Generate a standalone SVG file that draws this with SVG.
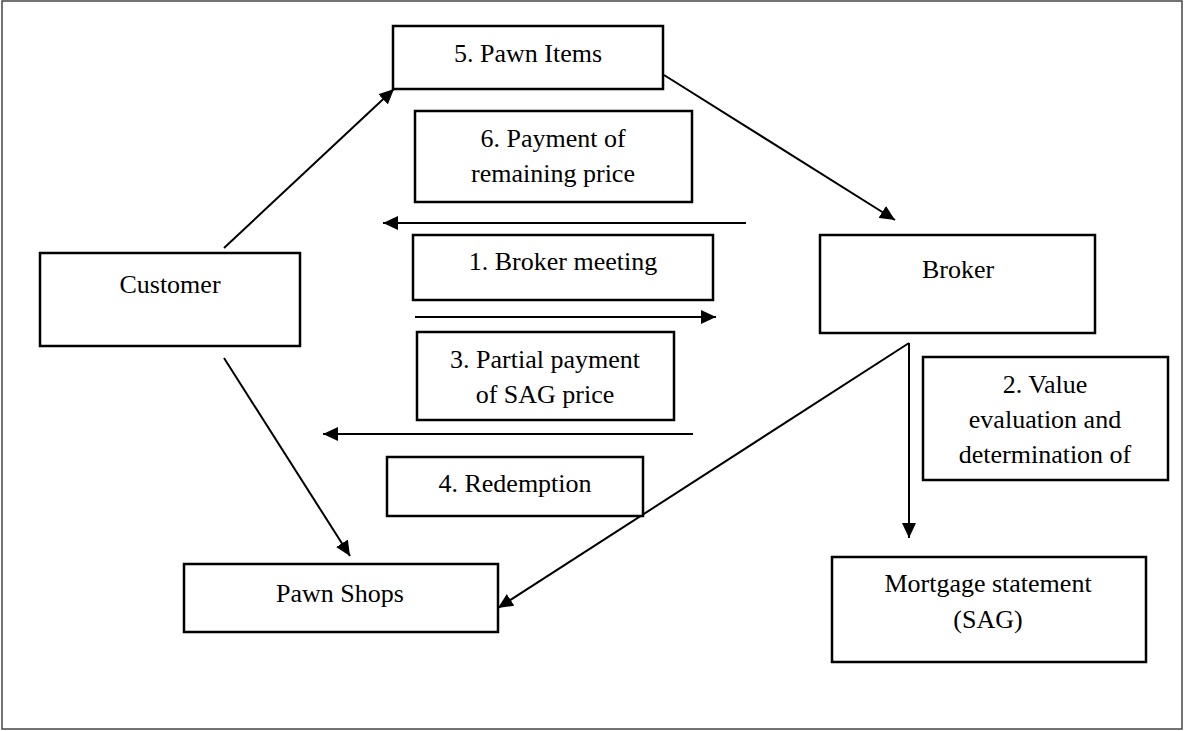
<svg xmlns="http://www.w3.org/2000/svg" width="1184" height="731" viewBox="0 0 1184 731">
<style>
.box{fill:#fff;stroke:#000;stroke-width:2.5}
.t{font-family:"Liberation Serif","Times New Roman",serif;font-size:26px;fill:#000;text-anchor:middle}
.c{stroke:#000;stroke-width:2;fill:none;marker-end:url(#ah)}
.l{stroke:#000;stroke-width:2;fill:none}
</style>
<defs>
<marker id="ah" markerUnits="userSpaceOnUse" markerWidth="16" markerHeight="14" refX="15" refY="7" orient="auto">
<path d="M0,0 L15,7 L0,14 Z" fill="#000"/>
</marker>
</defs>
<rect x="0" y="0" width="1184" height="731" fill="#fff"/>
<rect x="2" y="1" width="1180" height="728" fill="none" stroke="#444" stroke-width="1.5"/>
<g id="connectors">
<line class="c" x1="224" y1="248" x2="394" y2="89"/>
<line class="c" x1="664" y1="75" x2="895" y2="220"/>
<line class="c" x1="746" y1="223" x2="383" y2="223"/>
<line class="c" x1="415" y1="317" x2="716" y2="317"/>
<line class="c" x1="693" y1="434" x2="323" y2="434"/>
<line class="c" x1="224" y1="358" x2="350" y2="556"/>
<line class="c" x1="909" y1="343" x2="909" y2="538"/>
<line class="c" x1="909" y1="343" x2="498" y2="608"/>
</g>
<g id="pawn-items"><rect class="box" x="393" y="26" width="270" height="63"/><text class="t" x="528" y="62">5. Pawn Items</text></g>
<g id="payment-remaining"><rect class="box" x="415" y="111" width="277" height="91"/><text class="t" x="553" y="147">6. Payment of</text><text class="t" x="553" y="182">remaining price</text></g>
<g id="broker-meeting"><rect class="box" x="413" y="235" width="300" height="65"/><text class="t" x="563" y="270">1. Broker meeting</text></g>
<g id="partial-payment"><rect class="box" x="417" y="332" width="257" height="88"/><text class="t" x="545" y="368">3. Partial payment</text><text class="t" x="545" y="403">of SAG price</text></g>
<g id="redemption"><rect class="box" x="387" y="457" width="256" height="59"/><text class="t" x="515" y="492">4. Redemption</text></g>
<g id="customer"><rect class="box" x="40" y="253" width="260" height="93"/><text class="t" x="170" y="293">Customer</text></g>
<g id="pawn-shops"><rect class="box" x="184" y="564" width="314" height="68"/><text class="t" x="340" y="602">Pawn Shops</text></g>
<g id="broker"><rect class="box" x="820" y="235" width="275" height="98"/><text class="t" x="958" y="278">Broker</text></g>
<g id="value-evaluation"><rect class="box" x="923" y="357" width="245" height="123"/><text class="t" x="1045" y="393">2. Value</text><text class="t" x="1045" y="428">evaluation and</text><text class="t" x="1045" y="463">determination of</text></g>
<g id="mortgage-statement"><rect class="box" x="832" y="557" width="314" height="105"/><text class="t" x="988" y="592">Mortgage statement</text><text class="t" x="988" y="628">(SAG)</text></g>
</svg>
